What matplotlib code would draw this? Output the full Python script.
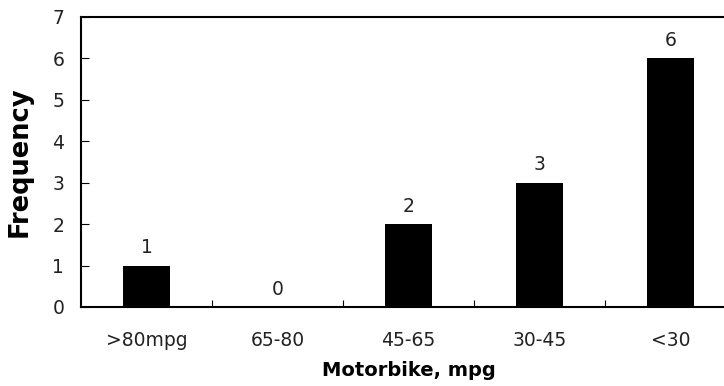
import matplotlib.pyplot as plt

categories = ['>80mpg', '65-80', '45-65', '30-45', '<30']
freq = [1, 0, 2, 3, 6]

plt.rcParams['font.family'] = 'DejaVu Sans'

fig = plt.figure(figsize=(7.24, 3.86), dpi=100)
ax = fig.add_axes([0.1119, 0.2047, 0.9047, 0.7513])

x = list(range(len(categories)))
bars = ax.bar(x, freq, width=0.36, color='black')

for xi, v in zip(x, freq):
    ax.annotate(str(v), (xi, v), xytext=(0, 6), textcoords='offset points',
                ha='center', va='bottom', fontsize=13.5, color='#222222')

ax.set_xlim(-0.5, len(categories) - 0.5)
ax.set_ylim(0, 7)
ax.set_yticks(range(0, 8))
ax.set_xticks(x)
ax.set_xticklabels(categories, fontsize=13.5, color='#222222')
ax.tick_params(axis='y', direction='in', length=6, labelsize=13.5, labelcolor='#222222', pad=12)
ax.tick_params(axis='x', length=0, pad=17)
# category separator ticks
ax.set_xticks([i + 0.5 for i in range(len(categories) - 1)], minor=True)
ax.tick_params(axis='x', which='minor', direction='in', length=5, width=0.8)

for s in ['left', 'bottom', 'top']:
    ax.spines[s].set_linewidth(1.5)
ax.spines['right'].set_visible(False)

ax.set_ylabel('Frequency', fontsize=18.5, fontweight='bold', labelpad=14)
ax.set_xlabel('Motorbike, mpg', fontsize=14, fontweight='bold', labelpad=8.5)

fig.savefig('out.png', dpi=100)
